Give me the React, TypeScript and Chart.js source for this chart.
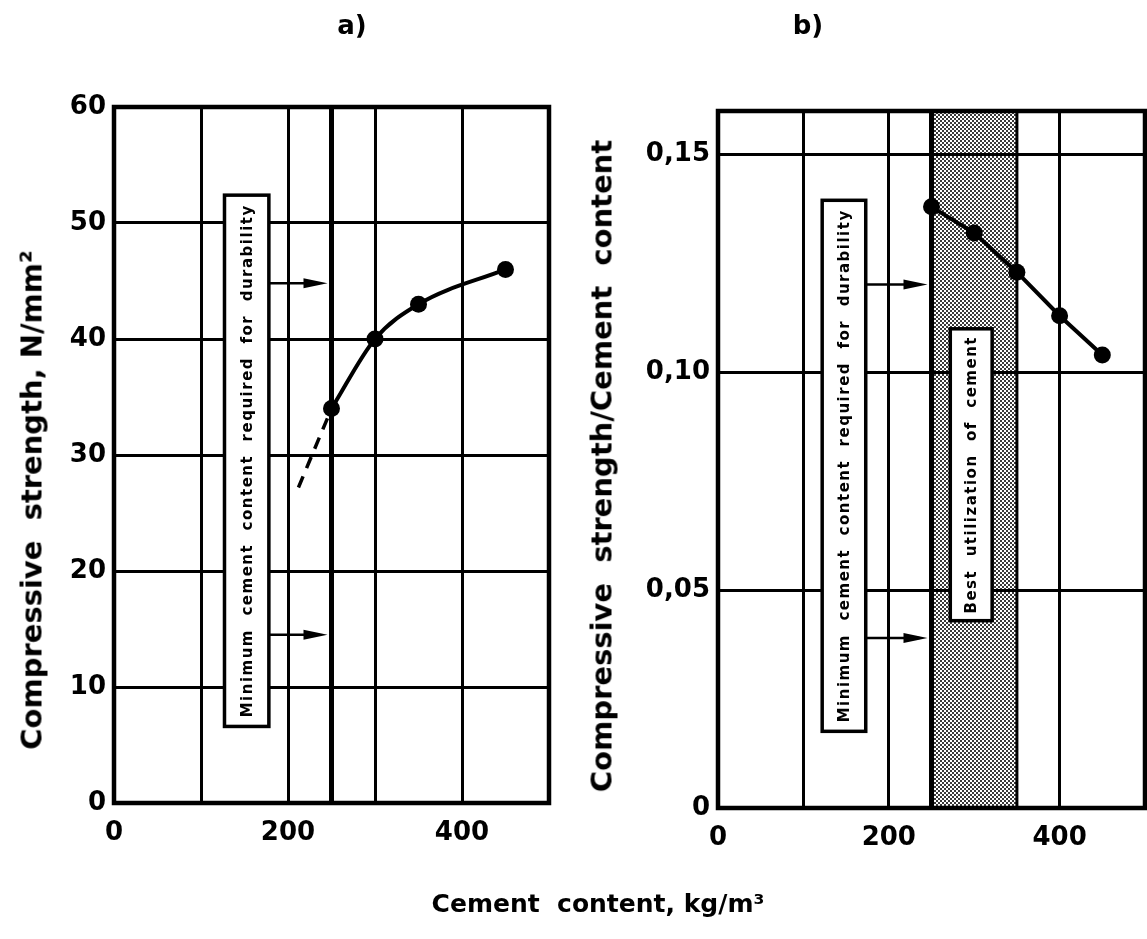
import React, { useEffect, useRef } from "react";
import { Chart, registerables } from "chart.js";
Chart.register(...registerables);

const FONT = "'DejaVu Sans', 'Liberation Sans', sans-serif";

// ---- Panel a) : compressive strength vs cement content
const A_CEMENT = [250, 300, 350, 450];
const A_STRENGTH = [34, 40, 43, 46];
const A_EXTRAP_CEMENT = [212, 250];
const A_EXTRAP_STRENGTH = [27.2, 34];
const A_Y_TICKS = [0, 10, 20, 30, 40, 50, 60];

// ---- Panel b) : strength / cement content vs cement content
const B_CEMENT = [250, 300, 350, 400, 450];
const B_RATIO = [0.138, 0.132, 0.123, 0.113, 0.104];
const B_Y_TICKS = [0, 0.05, 0.1, 0.15];

// ---- shared
const X_GRID = [0, 100, 200, 300, 400, 500];
const X_LABELED = [0, 200, 400];
const MIN_CEMENT = 250;
const BEST_RANGE = [250, 350];

const TITLE_A = "a)";
const TITLE_B = "b)";
const Y_TITLE_A = "Compressive  strength, N/mm²";
const Y_TITLE_B = "Compressive  strength/Cement  content";
const X_TITLE = "Cement  content, kg/m³";
const MIN_LABEL = "Minimum  cement  content  required  for  durability";
const BEST_LABEL = "Best  utilization  of  cement";

type Annot = {
  band?: number[];
  vlines: { value: number; width: number }[];
  boxes: { x0: number; x1: number; y0: number; y1: number; text: string }[];
  arrows: { x0: number; x1: number; y: number }[];
};

const A_ANNOT: Annot = {
  vlines: [{ value: MIN_CEMENT, width: 5 }],
  boxes: [{ x0: 127, x1: 178, y0: 6.6, y1: 52.4, text: MIN_LABEL }],
  arrows: [
    { x0: 178, x1: MIN_CEMENT, y: 44.8 },
    { x0: 178, x1: MIN_CEMENT, y: 14.5 },
  ],
};

const B_ANNOT: Annot = {
  band: BEST_RANGE,
  vlines: [
    { value: BEST_RANGE[0], width: 5 },
    { value: BEST_RANGE[1], width: 3 },
  ],
  boxes: [
    { x0: 122, x1: 173, y0: 0.0176, y1: 0.1395, text: MIN_LABEL },
    { x0: 272, x1: 321, y0: 0.043, y1: 0.11, text: BEST_LABEL },
  ],
  arrows: [
    { x0: 173, x1: MIN_CEMENT, y: 0.1202 },
    { x0: 173, x1: MIN_CEMENT, y: 0.039 },
  ],
};

function makePattern(ctx: CanvasRenderingContext2D) {
  const c = document.createElement("canvas");
  c.width = 4;
  c.height = 4;
  const g = c.getContext("2d")!;
  g.fillStyle = "#fff";
  g.fillRect(0, 0, 4, 4);
  g.fillStyle = "#3a3a3a";
  g.fillRect(0, 0, 2, 2);
  g.fillRect(2, 2, 2, 2);
  return ctx.createPattern(c, "repeat")!;
}

function makeAnnotPlugin(o: Annot) {
  return {
    id: "annot",
    beforeDraw(chart: any) {
      if (!o.band) return;
      const { ctx, chartArea: ca, scales } = chart;
      const x = scales.x;
      const x0 = x.getPixelForValue(o.band[0]);
      const x1 = x.getPixelForValue(o.band[1]);
      ctx.save();
      ctx.fillStyle = makePattern(ctx);
      ctx.fillRect(x0, ca.top, x1 - x0, ca.bottom - ca.top);
      ctx.restore();
    },
    beforeDatasetsDraw(chart: any) {
      const { ctx, chartArea: ca, scales } = chart;
      const x = scales.x;
      const y = scales.y;
      ctx.save();
      ctx.strokeStyle = "#000";
      for (const v of o.vlines) {
        const px = x.getPixelForValue(v.value);
        ctx.lineWidth = v.width;
        ctx.beginPath();
        ctx.moveTo(px, ca.top);
        ctx.lineTo(px, ca.bottom);
        ctx.stroke();
      }
      for (const b of o.boxes) {
        const l = x.getPixelForValue(b.x0);
        const r = x.getPixelForValue(b.x1);
        const t = y.getPixelForValue(b.y1);
        const bt = y.getPixelForValue(b.y0);
        ctx.fillStyle = "#fff";
        ctx.fillRect(l, t, r - l, bt - t);
        ctx.lineWidth = 3.5;
        ctx.strokeRect(l, t, r - l, bt - t);
        ctx.save();
        ctx.translate((l + r) / 2, (t + bt) / 2);
        ctx.rotate(-Math.PI / 2);
        ctx.font = `bold 15px ${FONT}`;
        (ctx as any).letterSpacing = "1.5px";
        ctx.fillStyle = "#000";
        ctx.textAlign = "center";
        ctx.textBaseline = "middle";
        ctx.fillText(b.text, 0, 1);
        ctx.restore();
      }
      ctx.fillStyle = "#000";
      for (const a of o.arrows) {
        const x0 = x.getPixelForValue(a.x0);
        const x1 = x.getPixelForValue(a.x1) - 4;
        const py = y.getPixelForValue(a.y);
        ctx.lineWidth = 2.5;
        ctx.beginPath();
        ctx.moveTo(x0, py);
        ctx.lineTo(x1 - 8, py);
        ctx.stroke();
        ctx.beginPath();
        ctx.moveTo(x1, py);
        ctx.lineTo(x1 - 24, py - 5);
        ctx.lineTo(x1 - 24, py + 5);
        ctx.closePath();
        ctx.fill();
      }
      ctx.lineWidth = 4.5;
      ctx.strokeRect(ca.left, ca.top, ca.right - ca.left, ca.bottom - ca.top);
      ctx.restore();
    },
  };
}

const tickFont = { family: FONT, size: 26, weight: "bold" as const };

function xScale(hidden: number[]) {
  return {
    type: "linear" as const,
    min: 0,
    max: 500,
    afterBuildTicks: (s: any) => {
      s.ticks = X_GRID.map((v) => ({ value: v }));
    },
    afterFit: (s: any) => {
      s.height = 50;
    },
    grid: {
      color: (c: any) =>
        c.tick && hidden.includes(c.tick.value) ? "rgba(0,0,0,0)" : "#000",
      lineWidth: 3,
      drawTicks: false,
    },
    border: { display: false },
    ticks: {
      padding: 15,
      font: tickFont,
      color: "#000",
      maxRotation: 0,
      autoSkip: false,
      callback: (v: any) => (X_LABELED.includes(v) ? String(v) : ""),
    },
  };
}

function yScale(
  max: number,
  ticks: number[],
  width: number,
  fmt: (v: number) => string
) {
  return {
    type: "linear" as const,
    min: 0,
    max,
    afterBuildTicks: (s: any) => {
      s.ticks = ticks.map((v) => ({ value: v }));
    },
    afterFit: (s: any) => {
      s.width = width;
    },
    grid: { color: "#000", lineWidth: 3, drawTicks: false },
    border: { display: false },
    ticks: {
      padding: 8,
      font: tickFont,
      color: "#000",
      autoSkip: false,
      callback: (v: any) => fmt(Number(v)),
    },
  };
}

export default function App() {
  const refA = useRef<HTMLCanvasElement>(null);
  const refB = useRef<HTMLCanvasElement>(null);

  useEffect(() => {
    const common = {
      animation: false as const,
      responsive: false,
      events: [] as any[],
      plugins: { legend: { display: false }, tooltip: { enabled: false } },
    };

    const chartA = new Chart(refA.current!, {
      type: "scatter",
      data: {
        datasets: [
          {
            data: A_CEMENT.map((x, i) => ({ x, y: A_STRENGTH[i] })),
            showLine: true,
            borderColor: "#000",
            borderWidth: 4,
            cubicInterpolationMode: "monotone",
            pointRadius: 8.5,
            pointBackgroundColor: "#000",
            pointBorderWidth: 0,
          },
          {
            data: A_EXTRAP_CEMENT.map((x, i) => ({ x, y: A_EXTRAP_STRENGTH[i] })),
            showLine: true,
            borderColor: "#000",
            borderWidth: 3.5,
            borderDash: [12, 9],
            pointRadius: 0,
          },
        ],
      },
      options: {
        ...common,
        layout: { padding: { left: 0, top: 107, right: 21, bottom: 86 } },
        scales: {
          x: xScale([]),
          y: yScale(60, A_Y_TICKS, 114, (v) => String(v)),
        },
      },
      plugins: [makeAnnotPlugin(A_ANNOT)],
    } as any);

    const chartB = new Chart(refB.current!, {
      type: "scatter",
      data: {
        datasets: [
          {
            data: B_CEMENT.map((x, i) => ({ x, y: B_RATIO[i] })),
            showLine: true,
            borderColor: "#000",
            borderWidth: 4,
            pointRadius: 8.5,
            pointBackgroundColor: "#000",
            pointBorderWidth: 0,
          },
        ],
      },
      options: {
        ...common,
        layout: { padding: { left: 0, top: 111, right: 11, bottom: 81 } },
        scales: {
          x: xScale([300]),
          y: yScale(0.16, B_Y_TICKS, 158, (v) =>
            v === 0 ? "0" : v.toFixed(2).replace(".", ",")
          ),
        },
      },
      plugins: [makeAnnotPlugin(B_ANNOT)],
    } as any);

    return () => {
      chartA.destroy();
      chartB.destroy();
    };
  }, []);

  const label = (
    text: string,
    left: number,
    top: number,
    size: number,
    rotate = false
  ) => (
    <div
      style={{
        position: "absolute",
        left,
        top,
        transform: rotate
          ? "translate(-50%, -50%) rotate(-90deg)"
          : "translate(-50%, -50%)",
        fontFamily: FONT,
        fontWeight: "bold",
        fontSize: size,
        color: "#000",
        whiteSpace: "pre",
        lineHeight: 1,
      }}
    >
      {text}
    </div>
  );

  return (
    <div
      style={{
        position: "fixed",
        left: 0,
        top: 0,
        width: 1147,
        height: 939,
        overflow: "hidden",
        background: "#fff",
      }}
    >
      <canvas
        ref={refA}
        width={570}
        height={939}
        style={{ position: "absolute", left: 0, top: 0 }}
      />
      <canvas
        ref={refB}
        width={600}
        height={939}
        style={{ position: "absolute", left: 560, top: 0 }}
      />
      {label(TITLE_A, 352, 25, 26)}
      {label(TITLE_B, 808, 25, 26)}
      {label(Y_TITLE_A, 32, 500, 29, true)}
      {label(Y_TITLE_B, 602, 466, 29, true)}
      {label(X_TITLE, 598, 903, 25)}
    </div>
  );
}
